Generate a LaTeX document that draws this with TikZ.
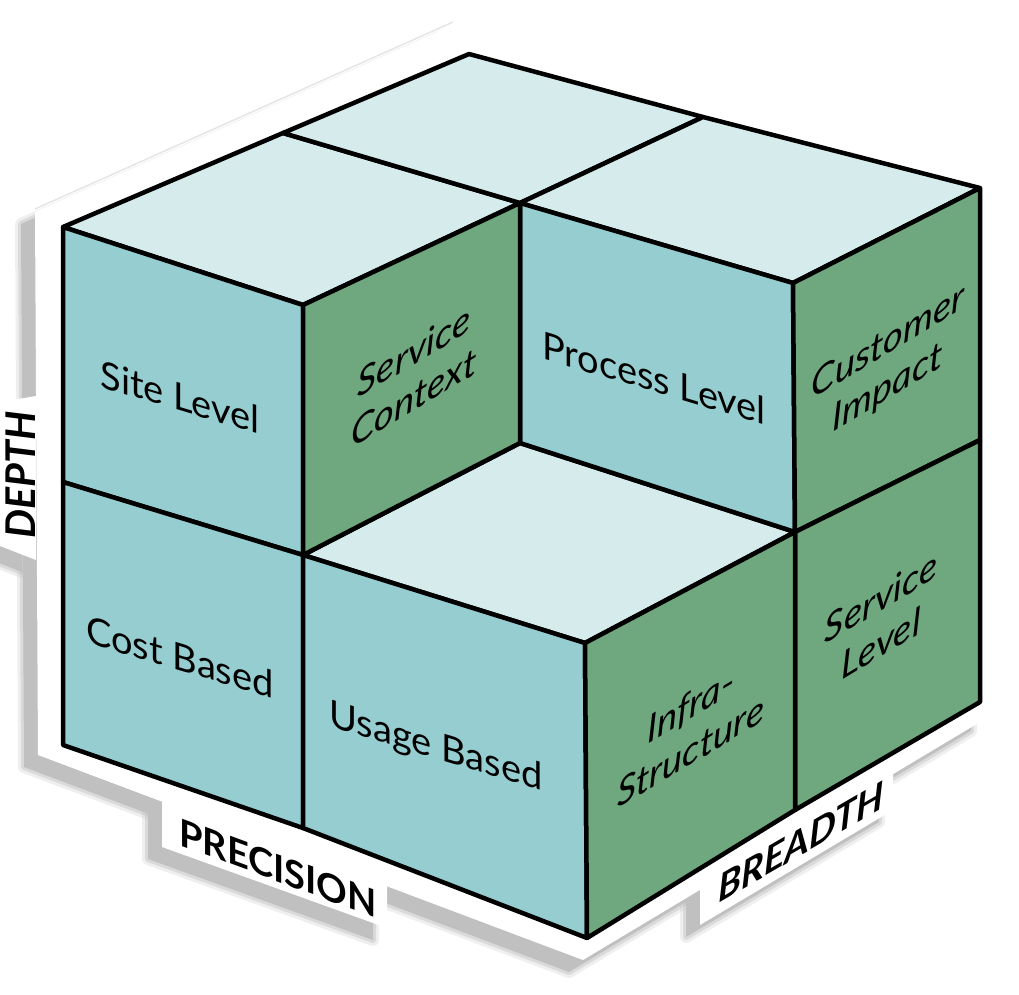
\documentclass[tikz,border=0pt]{standalone}
\usepackage{fontspec}
\setmainfont{Lato}
\definecolor{topc}{RGB}{214,235,236}
\definecolor{leftc}{RGB}{150,205,208}
\definecolor{rightc}{RGB}{111,168,126}
\definecolor{shadowc}{RGB}{192,192,192}
\begin{document}
\begin{tikzpicture}[x=1pt,y=-1pt,
  face/.style={draw=black, line width=4.5pt, line join=round},
  topface/.style={face, fill=topc},
  leftface/.style={face, fill=leftc},
  rightface/.style={face, fill=rightc},
  lbl/.style={inner sep=0pt, align=center, text=black},
  lface/.style={lbl, font=\fontsize{38}{46}\selectfont, yslant=-0.3},
  rface/.style={lbl, font=\fontsize{38}{46}\selectfont\itshape, yslant=0.6},
  axislbl/.style={inner sep=0pt, text=black},
  plate/.style={fill=white},
  shadeA/.style={draw=shadowc, opacity=0.25, line width=12pt, line join=round},
  shadeB/.style={draw=shadowc, opacity=0.45, line width=6pt, line join=round},
  shadeC/.style={fill=shadowc}
]
\useasboundingbox (0,0) rectangle (1019,994);

% ---- shadow of the base plate (soft) ----
\begin{scope}[shift={(-14,12)}]
  \foreach \s in {shadeA,shadeB,shadeC}{
    \path[\s] (453,25) -- (468,48) -- (975,185) -- (985,200) -- (985,719)
       -- (583,960) -- (38,755) -- (35,212) -- cycle;
    \path[\s] (0,402) -- (36,396) -- (36,560) -- (0,546) -- cycle;
    \path[\s] (162,795) -- (162,847) -- (387,928) -- (387,880) -- cycle;
    \path[\s] (700,880) -- (700,925) -- (893,810) -- (893,765) -- cycle;
  }
\end{scope}
\draw[black!10, line width=1.5pt] (35,209) -- (453,22);

% ---- white base plate ----
\path[plate] (453,25) -- (468,48) -- (975,185) -- (985,200) -- (985,719)
   -- (583,960) -- (38,755) -- (35,212) -- cycle;
\path[plate] (0,402) -- (36,396) -- (36,560) -- (0,546) -- cycle;
\path[plate] (162,795) -- (162,847) -- (387,928) -- (387,880) -- cycle;
\path[plate] (700,880) -- (700,925) -- (893,810) -- (893,765) -- cycle;

% ---- top faces ----
\path[topface] (63,227) -- (283,133) -- (520,203) -- (303,305) -- cycle;
\path[topface] (283,133) -- (469,54) -- (703,117) -- (520,203) -- cycle;
\path[topface] (520,203) -- (703,117) -- (980,188) -- (793,283) -- cycle;
\path[topface] (303,555) -- (520,443) -- (795,532) -- (585,643) -- cycle;

% ---- left-facing (teal) faces ----
\path[leftface] (63,227) -- (303,305) -- (303,555) -- (63,482) -- cycle;
\path[leftface] (63,482) -- (303,555) -- (303,828) -- (63,745) -- cycle;
\path[leftface] (520,203) -- (793,283) -- (795,532) -- (520,443) -- cycle;
\path[leftface] (303,555) -- (585,643) -- (587,938) -- (303,828) -- cycle;

% ---- right-facing (green) faces ----
\path[rightface] (303,305) -- (520,203) -- (520,443) -- (303,555) -- cycle;
\path[rightface] (793,283) -- (980,188) -- (980,440) -- (795,532) -- cycle;
\path[rightface] (795,532) -- (980,440) -- (980,702) -- (795,810) -- cycle;
\path[rightface] (585,643) -- (795,532) -- (795,810) -- (587,938) -- cycle;

% ---- face labels ----
\node[lface] (site)   at (180,397) {Site Level};
\node[rface] (svcctx) at (414,374) {Service\\Context};
\node[lface] (proc)   at (654,378) {Process Level};
\node[rface] (cust)   at (888,366) {Customer\\Impact};
\node[lface] (cost)   at (180,657) {Cost Based};
\node[lface] (usage)  at (436,748) {Usage Based};
\node[rface] (infra)  at (691,728) {Infra-\\Structure};
\node[rface] (svclvl) at (881,620) {Service\\Level};

% ---- axis labels ----
\node[axislbl, font=\fontsize{41}{48}\selectfont\bfseries\itshape, rotate=90] (depth) at (21,475) {DEPTH};
\node[axislbl, font=\fontsize{38}{46}\selectfont\bfseries, yslant=-0.37] (prec) at (278,868) {PRECISION};
\node[axislbl, font=\fontsize{38}{46}\selectfont\bfseries\itshape, yslant=0.58] (bread) at (801,842) {BREADTH};
\end{tikzpicture}
\end{document}
